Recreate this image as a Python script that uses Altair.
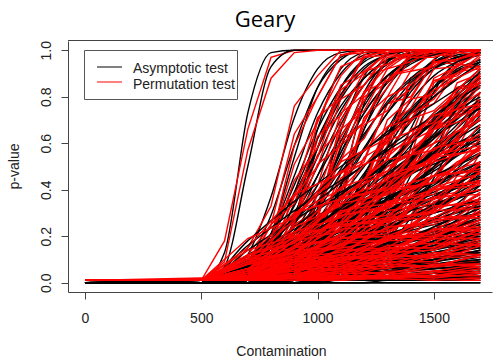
import altair as alt
import pandas as pd

# contamination levels at which the curves are read (x axis)
X_GRID = [0, 500, 600, 700, 800, 900, 1000, 1100, 1200, 1300, 1400, 1500, 1600, 1700]
X_GRID_COARSE = [0, 500, 700, 900, 1100, 1300, 1500, 1700]

# p-values in percent, one list per simulated curve (asymptotic test, black)
ASYMPTOTIC = [
    [0,0,13,73,99,100,100,100,100,100,100,100,100,100],
    [0,0,7,50,93,100,100,100,100,100,100,100,100,100],
    [0,0,2,12,37,71,92,99,100,100,100,100,100,100],
    [0,0,2,9,29,59,84,96,100,100,100,100,100,100],
    [0,0,1,7,21,46,73,90,98,100,100,100,100,100],
    [0,0,1,5,15,34,58,79,92,98,100,100,100,100],
    [0,0,2,8,21,42,66,84,95,99,100,100,100,100],
    [0,0,2,7,19,39,62,81,93,98,100,100,100,100],
    [0,0,1,4,11,25,46,68,85,94,98,100,100,100],
    [0,0,2,6,16,33,54,74,88,96,99,100,100,100],
    [0,0,2,6,15,30,50,70,85,94,98,100,100,100],
    [0,1,4,10,21,38,58,76,88,96,99,100,100,100],
    [0,0,1,3,8,18,34,54,73,86,95,98,100,100],
    [0,0,2,5,12,25,42,61,78,89,96,99,100,100],
    [0,0,2,5,11,22,38,56,73,86,94,98,99,100],
    [0,1,3,8,16,29,46,63,78,89,95,98,100,100],
    [0,0,1,2,6,13,24,40,57,73,86,93,97,99],
    [0,0,1,4,9,18,31,47,63,78,88,95,98,99],
    [0,0,1,4,8,16,27,42,58,73,84,92,96,99],
    [0,1,3,6,12,22,34,49,64,77,87,93,97,99],
    [0,0,1,2,4,8,16,27,41,56,70,82,90,95],
    [0,0,1,3,6,12,21,33,47,61,74,84,91,96],
    [0,0,1,3,6,11,19,30,42,56,69,80,88,94],
    [0,1,2,5,10,16,26,37,50,63,75,84,91,95],
    [0,0,1,1,3,6,11,18,28,40,53,66,77,86],
    [0,0,1,2,5,9,15,24,34,47,59,71,81,88],
    [0,0,1,2,4,8,14,21,31,42,54,66,76,84],
    [0,1,2,4,8,13,20,29,39,51,62,73,81,88],
    [0,0,0,1,2,4,7,12,19,28,39,50,61,72],
    [0,0,1,2,4,7,12,18,26,36,47,58,68,78],
    [0,0,1,2,4,6,11,16,24,33,43,54,64,74],
    [0,1,2,4,6,10,16,23,32,41,52,62,71,79],
    [0,0,1,2,3,5,9,14,20,27,36,46,56,66],
    [0,0,0,1,2,3,5,8,12,17,24,33,42,52],
    [0,0,1,2,3,5,8,12,17,24,31,40,49,59],
    [0,1,2,3,5,8,12,16,22,29,37,46,55,63],
    [0,0,1,1,2,4,6,9,13,18,24,31,39,47],
    [0,0,1,1,2,4,5,8,12,16,21,27,34,42],
    [0,0,0,1,1,2,3,4,7,10,14,18,24,31],
    [0,1,2,3,4,6,9,12,17,22,28,34,42,49],
    [0,0,1,1,2,3,4,6,9,12,16,21,27,33],
    [0,0,1,1,2,3,4,6,8,11,14,18,23,29],
    [0,1,2,2,3,5,7,9,12,15,19,24,29,35],
    [0,0,0,0,1,1,2,3,4,5,7,10,13,16],
    [0,0,1,1,2,2,3,4,6,8,11,14,17,21],
    [0,0,1,1,1,2,3,4,5,7,9,12,14,18],
    [0,1,1,2,3,4,5,6,8,10,13,16,19,23],
    [0,0,1,1,1,2,2,3,4,5,7,9,11,14],
    [0,0,0,0,1,1,1,1,2,3,3,4,6,7],
    [0,0,1,1,1,2,2,3,3,4,5,7,8,10],
    [0,1,1,2,2,3,4,4,5,7,8,10,12,14],
    [0,0,1,1,1,1,2,2,2,3,4,4,5,6],
    [0,1,1,2,2,2,3,3,4,5,6,7,8,9],
    [0,0,0,0,0,0,1,1,1,1,1,2,2,3],
    [0,0,1,1,1,1,1,1,2,2,2,3,3,4],
    [0,0,1,1,1,1,1,1,1,2,2,2,2,3],
    [0,0,0,0,0,0,0,0,0,1,1,1,1,1],
    [0,1,1,1,1,2,2,2,2,3,3,3,4,4],
    [0,0,0,0,0,0,0,0,0,0,0,0,0,0],
    [0,0,0,0,1,1,1,1,1,1,1,1,2,2],
    [0,0,0,0,0,0,0,0,0,0,0,0,0,0],
    [0,0,0,4,21,54,84,97,100,100,100,100,100,100],
    [0,0,0,1,8,27,58,84,96,100,100,100,100,100],
    [0,0,0,0,3,12,31,58,82,95,99,100,100,100],
    [0,0,0,0,2,8,21,42,66,84,95,99,100,100],
    [0,0,0,0,0,3,14,36,66,87,97,100,100,100],
    [0,0,0,2,7,17,34,56,76,89,96,99,100,100],
    [0,0,0,0,2,5,14,27,46,66,82,92,97,99],
    [0,0,0,0,0,1,5,16,37,63,84,95,99,100],
    [0,0,0,1,3,7,15,28,45,63,78,89,95,98],
    [0,0,0,0,1,9,32,65,89,98,100,100,100,100],
    [0,0,0,1,4,8,16,27,42,58,73,84,92,96],
    [0,0,0,0,0,0,2,8,21,42,66,84,95,99],
    [0,0,0,0,0,0,2,5,14,27,46,66,82,92],
    [0,0,0,0,0,0,0,3,12,31,58,82,95,99],
    [0,0,0,0,1,3,7,14,24,37,52,67,79,88],
    [0,0,0,0,5,27,66,92,99,100,100,100,100,100],
    [0,0,0,0,0,2,12,41,77,95,100,100,100,100],
    [0,0,0,0,0,0,0,2,7,17,34,56,76,89],
    [0,0,0,0,0,0,1,3,7,15,28,45,63,78],
    [0,0,0,0,0,0,1,8,27,58,84,96,100,100],
]

# slower curves, read on the coarser grid
ASYMPTOTIC_SLOW = [
    [0,0,0,1,2,2,3,4], [0,0,0,1,2,3,5,6], [0,0,0,1,2,4,6,8], [0,0,1,2,4,6,8,10],
    [0,0,1,2,4,7,9,12], [0,0,0,2,4,7,10,14], [0,0,2,4,6,9,13,16], [0,0,1,3,6,10,14,18],
    [0,0,0,2,6,10,15,20], [0,0,2,5,9,13,17,22], [0,0,1,4,9,13,18,24], [0,0,0,3,8,13,19,26],
    [0,0,3,7,11,17,22,28], [0,0,1,6,11,17,23,30], [0,0,0,4,10,16,24,32], [0,0,3,8,14,20,27,34],
    [0,0,2,7,13,20,28,36], [0,0,0,5,12,20,28,38], [0,0,4,10,16,24,32,40], [0,0,2,8,15,23,32,42],
    [0,0,0,5,13,23,33,44], [0,0,4,11,19,27,36,46], [0,0,2,9,17,27,37,48], [0,0,0,6,15,26,37,50],
    [0,0,5,12,21,31,41,52], [0,0,2,10,20,31,42,55], [0,0,0,7,18,30,43,58], [0,0,6,15,25,36,48,61],
    [0,0,3,12,23,36,49,64], [0,0,0,8,20,35,50,67], [0,0,7,17,28,41,55,70], [0,0,3,14,26,41,56,73],
    [0,0,0,9,23,39,57,76], [0,0,8,19,32,47,62,79], [0,0,4,15,29,46,63,82], [0,0,0,11,26,44,64,85],
    [0,0,9,21,36,52,69,88], [0,0,4,17,33,51,70,91], [0,0,0,1,2,3,4,5], [0,0,1,2,3,4,6,7],
    [0,0,0,2,3,5,7,9], [0,0,0,1,3,6,8,11], [0,0,1,3,5,8,10,13], [0,0,1,3,5,8,12,15],
    [0,0,0,2,5,9,13,17], [0,0,2,5,8,11,15,19], [0,0,1,4,8,12,16,21], [0,0,0,3,7,12,17,23],
    [0,0,2,6,10,15,20,25], [0,0,1,5,10,15,21,27], [0,0,0,1,1,2,2,3], [0,0,0,0,1,1,1,2],
    [0,0,4,8,11,14,17,20], [0,0,2,8,13,17,21,25], [0,0,6,12,17,21,26,30], [0,0,3,11,18,24,30,35],
    [0,0,8,15,22,28,34,40], [0,0,4,14,23,31,38,45], [0,0,10,19,28,36,43,50], [0,0,5,17,28,37,46,55],
    [0,0,12,23,33,43,51,60], [0,0,6,21,33,44,55,65], [0,0,14,27,39,50,60,70], [0,0,7,24,38,51,63,75],
    [0,0,16,31,44,57,69,80], [0,0,7,27,43,58,72,85], [0,0,18,35,50,64,77,90], [0,0,8,30,48,65,80,95],
    [0,0,1,1,2,2,3,3], [0,0,0,1,2,3,4,5], [0,0,1,3,4,5,7,8], [0,0,1,3,5,6,8,10],
    [0,0,2,4,7,9,11,13], [0,0,1,4,7,10,12,15], [0,0,3,6,9,12,15,18], [0,0,2,6,10,13,17,21],
    [0,0,4,8,12,16,20,24], [0,0,2,7,12,17,22,27], [0,0,5,10,15,20,25,30], [0,0,3,9,15,21,27,33],
    [0,0,6,12,18,24,30,36], [0,0,4,11,18,25,33,40], [0,0,7,15,22,29,37,44], [0,0,4,13,22,31,39,48],
    [0,0,9,17,26,35,43,52], [0,0,5,15,25,36,46,56], [0,0,10,21,31,41,52,62], [0,0,6,19,31,43,56,68],
]

# p-values in percent, one list per simulated curve (permutation test, red)
PERMUTATION = [
    [1,1,18,66,97,100,100,100,100,100,100,100,100,100],
    [1,1,9,57,88,99,100,100,100,100,100,100,100,100],
    [1,1,3,15,33,76,89,100,100,100,100,100,100,100],
    [1,1,2,12,25,64,80,98,99,100,100,100,100,100],
    [1,1,2,9,18,51,69,93,97,100,100,100,100,100],
    [1,1,1,7,12,38,54,83,90,99,100,100,100,100],
    [1,1,3,6,25,38,71,80,97,98,100,100,100,100],
    [1,1,2,9,16,44,58,85,91,99,100,100,100,100],
    [1,1,1,6,9,29,42,73,81,96,97,100,100,100],
    [1,1,2,8,13,37,50,79,85,98,98,100,100,100],
    [1,1,3,5,18,27,55,66,89,92,99,100,100,100],
    [1,1,5,8,25,34,63,72,91,94,100,99,100,100],
    [1,1,1,5,6,22,30,59,69,89,92,99,96,100],
    [1,1,1,7,10,29,38,66,74,92,95,100,99,100],
    [1,1,1,7,9,26,34,61,69,89,91,100,97,100],
    [1,1,4,6,19,26,51,59,82,87,97,97,100,100],
    [1,1,1,4,4,16,20,45,52,77,83,96,95,100],
    [1,1,2,3,11,15,35,43,68,74,91,93,99,98],
    [1,1,1,6,6,20,23,47,53,77,80,95,94,100],
    [1,1,4,8,11,25,31,53,62,80,85,95,96,100],
    [1,1,2,2,6,7,19,25,45,53,73,79,92,93],
    [1,1,1,4,5,15,19,37,44,64,70,87,89,97],
    [1,2,1,2,8,10,22,27,46,53,73,77,91,92],
    [1,1,3,4,12,14,29,34,54,60,79,81,94,93],
    [1,1,1,2,2,8,10,21,25,44,50,69,75,89],
    [1,1,2,1,6,8,18,22,38,44,63,68,84,86],
    [1,1,1,3,3,10,12,24,29,46,51,70,73,87],
    [1,1,3,3,10,11,23,26,43,47,66,70,84,86],
    [1,1,1,2,1,6,6,15,17,32,36,54,58,75],
    [1,1,2,1,5,6,15,16,30,33,51,55,72,76],
    [1,1,1,3,3,8,9,19,21,37,40,58,61,77],
    [1,1,2,5,8,9,14,26,35,38,49,66,73,77],
    [1,1,2,1,4,4,11,12,23,24,40,43,60,63],
    [1,1,1,2,1,5,4,11,10,20,22,37,39,56],
    [1,1,1,3,4,4,7,14,20,22,29,44,52,57],
    [1,1,3,2,6,7,14,14,25,26,41,43,59,60],
    [1,1,1,2,1,6,5,12,11,21,22,35,36,51],
    [1,1,1,2,2,5,4,10,10,19,19,31,31,46],
    [1,1,1,1,2,2,4,3,6,12,16,17,22,33],
    [1,1,3,2,5,5,11,10,20,19,32,31,46,45],
    [1,1,1,2,1,5,3,8,7,15,14,24,25,37],
    [1,1,1,1,3,3,3,7,9,10,13,20,25,27],
    [1,1,3,2,4,4,9,8,15,13,22,22,32,33],
    [1,1,1,1,1,2,1,3,5,4,8,9,14,15],
    [1,1,1,2,1,3,3,5,5,10,9,16,15,24],
    [1,1,1,1,2,2,4,3,7,6,11,10,17,16],
    [1,1,2,2,4,3,6,5,10,9,15,14,22,21],
    [1,1,1,1,2,2,3,2,5,4,9,8,13,12],
    [1,1,1,1,1,1,2,1,3,2,4,4,7,6],
    [1,1,1,1,2,2,3,2,4,4,6,6,9,9],
    [1,1,1,2,3,3,5,4,6,6,10,9,14,13],
    [1,1,1,1,1,2,2,3,2,4,3,5,5,7],
    [1,1,1,2,3,2,4,3,5,5,7,6,9,8],
    [1,1,1,1,1,1,1,2,1,2,1,2,2,3],
    [1,1,1,1,1,2,1,2,2,3,2,3,4,4],
    [1,1,1,1,1,1,2,1,2,2,3,2,3,3],
    [1,1,1,1,1,1,1,1,1,1,2,1,2,1],
    [1,1,1,1,2,2,3,2,3,3,4,3,5,4],
    [1,1,1,1,1,1,1,1,1,1,1,1,1,1],
    [1,1,1,1,1,1,1,2,1,1,2,1,2,2],
    [1,1,1,1,1,1,1,1,1,1,1,1,1,1],
    [1,1,1,6,18,59,80,98,100,100,100,100,100,100],
    [1,1,2,1,11,24,62,80,98,99,100,100,100,100],
    [1,1,1,2,2,15,27,63,78,97,98,100,100,100],
    [1,1,1,1,4,6,25,38,71,80,97,98,100,100],
    [1,1,1,1,2,2,17,33,71,84,99,100,100,100],
    [1,1,2,1,9,14,38,52,80,86,98,98,100,100],
    [1,1,1,2,1,7,11,31,42,70,79,95,96,100],
    [1,1,1,1,2,1,7,13,42,59,88,93,100,99],
    [1,1,1,2,2,9,12,32,41,67,75,92,93,99],
    [1,1,1,2,1,12,28,70,85,99,100,100,100,100],
    [1,1,1,2,3,10,13,31,38,63,69,87,90,98],
    [1,1,1,1,1,2,1,11,18,47,62,88,93,100],
    [1,1,1,1,2,1,4,3,17,24,51,62,86,90],
    [1,1,1,1,1,1,2,5,10,36,54,86,93,100],
    [1,1,1,1,2,2,9,12,28,33,57,63,83,86],
    [1,1,2,1,8,24,70,89,100,99,100,100,100,100],
    [1,1,1,1,2,1,15,37,82,93,100,99,100,100],
    [1,1,1,1,1,1,2,1,10,14,38,52,80,86],
    [1,1,1,1,1,2,1,5,5,19,25,49,60,82],
    [1,1,1,1,1,2,3,6,31,54,88,94,100,100],
]

PERMUTATION_SLOW = [
    [1,1,1,2,2,3,3,5], [1,1,1,2,1,4,4,7], [1,1,1,1,3,3,7,8], [1,1,2,3,3,8,7,12],
    [1,1,1,3,6,6,11,11], [1,1,1,1,5,9,9,16], [1,1,1,6,5,11,12,18], [1,1,2,2,8,9,17,16],
    [1,1,1,3,5,13,14,23], [1,1,3,4,11,12,20,21], [1,1,1,6,8,16,17,27], [1,1,1,2,10,12,23,24],
    [1,1,2,9,10,20,21,31], [1,1,2,5,14,15,27,28], [1,1,1,6,9,19,22,35], [1,1,4,7,17,18,31,32],
    [1,1,1,9,12,24,26,39], [1,1,1,4,15,18,32,36], [1,1,3,12,15,28,30,44], [1,1,3,7,19,21,36,40],
    [1,1,1,7,11,27,31,48], [1,1,6,9,23,25,40,44], [1,1,1,12,15,31,34,52], [1,1,1,4,19,23,41,47],
    [1,1,4,15,19,35,38,56], [1,1,3,8,24,28,46,52], [1,1,1,10,16,34,40,62], [1,1,8,13,29,33,52,58],
    [1,1,2,15,20,40,46,68], [1,1,1,6,24,32,54,64], [1,1,6,20,25,45,52,74], [1,1,4,12,30,38,60,70],
    [1,1,1,12,20,43,54,79], [1,1,10,17,36,44,66,76], [1,1,3,18,26,50,60,85], [1,1,1,9,30,41,68,82],
    [1,1,8,24,33,56,66,90], [1,1,6,15,37,48,73,89], [1,1,1,1,3,2,5,4], [1,1,1,3,2,5,5,8],
    [1,1,1,1,4,4,8,8], [1,1,1,2,2,7,7,12], [1,1,2,2,7,7,12,12], [1,1,1,4,4,10,11,17],
    [1,1,1,3,4,11,12,19], [1,1,1,7,7,13,14,21], [1,1,2,3,10,11,19,19], [1,1,1,4,6,15,15,26],
    [1,1,3,5,12,13,23,23], [1,1,1,7,9,18,19,30], [1,1,1,1,2,2,3,3], [1,1,1,1,1,2,1,2],
    [1,1,5,7,12,13,19,19], [1,1,2,10,12,19,20,27], [1,1,8,11,19,20,28,29], [1,1,3,13,16,27,28,38],
    [1,1,10,13,25,26,37,38], [1,1,5,12,26,29,41,43], [1,1,12,17,31,34,46,48], [1,1,4,20,25,40,43,58],
    [1,1,14,20,36,40,54,57], [1,1,8,18,36,41,58,62], [1,1,11,30,36,53,57,73], [1,1,9,21,41,48,66,72],
    [1,1,19,28,48,54,72,77], [1,1,5,30,40,61,69,88], [1,1,15,38,47,67,74,92], [1,1,10,27,52,62,83,93],
    [1,1,1,2,1,3,2,4], [1,1,1,2,1,4,3,6], [1,1,2,2,5,4,8,7], [1,1,1,4,4,8,7,12],
    [1,1,3,3,9,8,13,12], [1,1,1,6,6,12,11,17], [1,1,4,5,11,10,17,16], [1,1,1,8,9,15,15,23],
    [1,1,5,7,14,14,23,22], [1,1,1,9,10,20,20,30], [1,1,6,8,18,18,28,28], [1,1,2,11,13,24,25,36],
    [1,1,8,10,21,22,33,34], [1,1,3,14,15,28,30,43], [1,1,9,13,25,27,40,42], [1,1,3,16,19,34,36,51],
    [1,1,11,15,29,32,46,49], [1,1,4,18,22,39,43,59], [1,1,12,19,34,38,55,59], [1,1,5,22,28,46,53,71],
]

X_TICKS = [0, 500, 1000, 1500]
Y_TICKS = [0.0, 0.2, 0.4, 0.6, 0.8, 1.0]
TITLE = "Geary"
LEGEND = ["Asymptotic test", "Permutation test"]

rows = []
for name, kind, grid, curves in (
    ("Asymptotic", "fine", X_GRID, ASYMPTOTIC),
    ("Asymptotic", "coarse", X_GRID_COARSE, ASYMPTOTIC_SLOW),
    ("Permutation", "fine", X_GRID, PERMUTATION),
    ("Permutation", "coarse", X_GRID_COARSE, PERMUTATION_SLOW),
):
    for i, vals in enumerate(curves):
        for x, v in zip(grid, vals):
            rows.append({"test": name, "kind": kind, "half": i % 2,
                         "curve": f"{name}_{kind}_{i}", "x": x, "p": v / 100.0})
df = pd.DataFrame(rows)

W, H = 424, 251
FONT = "Liberation Sans"
TXT = "#222222"
LINE = "#444444"
SW = 1.4

xenc = alt.X(
    "x:Q",
    scale=alt.Scale(domain=[-73, 1750], nice=False, zero=False),
    axis=alt.Axis(
        values=X_TICKS, format="d", grid=False,
        tickSize=7, tickColor=LINE, domainColor=LINE,
        labelFont=FONT, labelFontSize=14, labelColor=TXT,
        labelBaseline="alphabetic", labelPadding=23, labelFlush=False, labelOverlap=False,
        title="Contamination", titleFont=FONT, titleFontSize=14, titleFontWeight="normal",
        titleColor=TXT, titleX=213, titleY=63, titleBaseline="alphabetic", titleAlign="center",
    ),
)
yenc = alt.Y(
    "p:Q",
    scale=alt.Scale(domain=[-0.04, 1.04], nice=False, zero=False),
    axis=alt.Axis(
        values=Y_TICKS, format=".1f", grid=False,
        tickSize=7, tickColor=LINE, domainColor=LINE,
        labelFont=FONT, labelFontSize=14, labelColor=TXT,
        labelAngle=270, labelAlign="center", labelBaseline="alphabetic", labelPadding=11,
        labelFlush=False, labelOverlap=False,
        title="p-value", titleFont=FONT, titleFontSize=14, titleFontWeight="normal",
        titleColor=TXT, titleAngle=270, titleX=-50, titleY=125, titleBaseline="alphabetic",
        titleAlign="center",
    ),
)


def curves(test, kind, half=None):
    if test == "Asymptotic":
        mark = alt.Chart(df).mark_line(color="black", strokeWidth=SW, interpolate="monotone")
    else:
        mark = alt.Chart(df).mark_line(color="#FF0000", strokeWidth=SW)
    cond = (alt.datum.test == test) & (alt.datum.kind == kind)
    if half is not None:
        cond = cond & (alt.datum.half == half)
    return mark.transform_filter(cond).encode(x=xenc, y=yenc, detail="curve:N")


layers = [
    curves("Asymptotic", "fine", 0),
    curves("Permutation", "fine", 0),
    curves("Asymptotic", "fine", 1),
    curves("Permutation", "fine", 1),
    curves("Asymptotic", "coarse"),
    curves("Permutation", "coarse"),
]

one = pd.DataFrame({"k": [0]})
box = alt.Chart(one).mark_rect(fill="white", stroke="#555555", strokeWidth=1).encode(
    x=alt.value(16.5), x2=alt.value(169.5), y=alt.value(9.5), y2=alt.value(58.5)
)
leg_black = alt.Chart(one).mark_rule(color="black", strokeWidth=1).encode(
    x=alt.value(29), x2=alt.value(54), y=alt.value(26)
)
leg_red = alt.Chart(one).mark_rule(color="#FF0000", strokeWidth=1).encode(
    x=alt.value(29), x2=alt.value(54), y=alt.value(41)
)
leg_t1 = alt.Chart(one).mark_text(
    text=LEGEND[0], align="left", baseline="alphabetic", font=FONT, fontSize=14, color=TXT
).encode(x=alt.value(65), y=alt.value(31.7))
leg_t2 = alt.Chart(one).mark_text(
    text=LEGEND[1], align="left", baseline="alphabetic", font=FONT, fontSize=14, color=TXT
).encode(x=alt.value(65), y=alt.value(47.7))
title = alt.Chart(one).mark_text(
    text=TITLE, align="center", baseline="alphabetic", font="Open Sans", fontSize=22, color="black"
).encode(x=alt.value(197), y=alt.value(-13.7))
top_border = alt.Chart(one).mark_rule(color=LINE, strokeWidth=1).encode(
    x=alt.value(0), x2=alt.value(426), y=alt.value(-0.5)
)

chart = alt.layer(
    *layers, box, leg_black, leg_red, leg_t1, leg_t2, title, top_border
).properties(
    width=W, height=H,
    autosize=alt.AutoSizeParams(type="none"),
    padding={"left": 68, "top": 41, "right": 1, "bottom": 65},
).configure_view(stroke=None)

chart.save("out.html", embed_options={"renderer": "svg", "actions": False})
